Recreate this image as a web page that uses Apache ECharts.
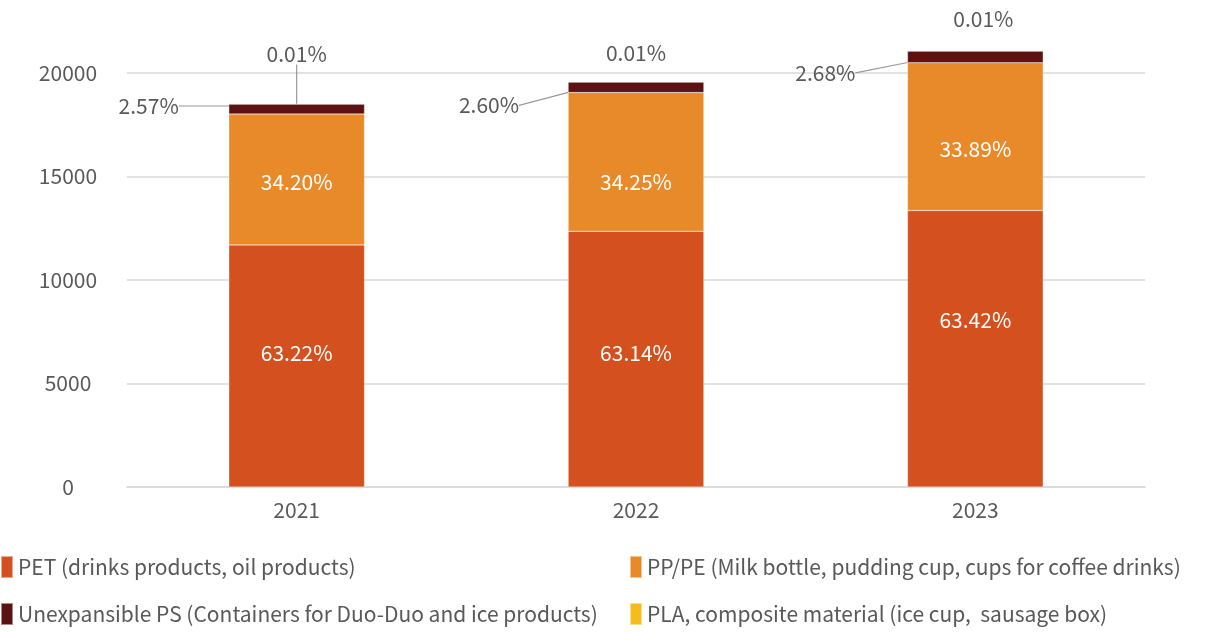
<!DOCTYPE html>
<html>
<head>
<meta charset="utf-8">
<script src="https://cdn.jsdelivr.net/npm/echarts@6/dist/echarts.min.js"></script>
<style>
  html, body { margin: 0; padding: 0; background: #fff; }
  #chart { width: 1226px; height: 633px; }
</style>
</head>
<body>
<div id="chart"></div>
<script>
const years = ['2021', '2022', '2023']
const seriesNames = [
  'PET (drinks products, oil products)',
  'PP/PE (Milk bottle, pudding cup, cups for coffee drinks)',
  'Unexpansible PS (Containers for Duo-Duo and ice products)',
  'PLA, composite material (ice cup,  sausage box)'
]
const petValues = [11696, 12353, 13358]
const ppValues = [6327, 6701, 7138]
const psValues = [475, 509, 564]
const plaValues = [2, 2, 2]
const petPct = ['63.22%', '63.14%', '63.42%']
const ppPct = ['34.20%', '34.25%', '33.89%']
const psPct = ['2.57%', '2.60%', '2.68%']
const plaPct = ['0.01%', '0.01%', '0.01%']
const yTicks = [0, 5000, 10000, 15000, 20000]

const FONT = '"Noto Sans CJK SC", "Noto Sans", sans-serif'
const TEXT = '#595959'
const colors = ['#D4501E', '#E8892A', '#5C1212', '#F4BC1C']

const chart = echarts.init(document.getElementById('chart'))

// label offsets (the labels were nudged by hand in the original)
const petShift = [[0, -13], [0, -6], [0, -29]]
const ppShift = [[0, 3], [0, 20], [0, 12]]
const psShift = [[-148, -3], [-147, 18], [-150, 16]]
const plaShift = [[0, -50], [0, -29], [8, -32]]
const plaLine = [true, false, false]

const bar = (name, data, pct, shift, labelColor, extra) => Object.assign({
  name: name,
  type: 'bar',
  stack: 'total',
  barWidth: '40%',
  clip: false,
  data: data,
  itemStyle: { borderColor: 'rgba(255,255,255,0.5)', borderWidth: 0.5 },
  label: {
    show: true,
    position: 'inside',
    fontFamily: FONT,
    fontSize: 21,
    color: labelColor,
    formatter: p => pct[p.dataIndex]
  },
  labelLayout: p => ({ dx: shift[p.dataIndex][0], dy: shift[p.dataIndex][1] })
}, extra || {})

const legendItem = (name, left, top) => ({
  left: left,
  top: top,
  padding: 0,
  itemWidth: 12,
  itemHeight: 22,
  icon: 'rect',
  textStyle: { fontFamily: FONT, fontSize: 21, color: TEXT },
  data: [name]
})

const option = {
  animation: false,
  color: colors,
  textStyle: { fontFamily: FONT },
  grid: { left: 127, right: 81, top: 73, bottom: 146 },
  legend: [
    legendItem(seriesNames[0], 0, 555),
    legendItem(seriesNames[1], 629, 555),
    legendItem(seriesNames[2], 0, 602),
    legendItem(seriesNames[3], 629, 602)
  ],
  xAxis: {
    type: 'category',
    data: years,
    axisLine: { lineStyle: { color: '#d9d9d9', width: 1.5 } },
    axisTick: { show: false },
    axisLabel: { color: TEXT, fontSize: 21, fontFamily: FONT, margin: 13 }
  },
  yAxis: {
    type: 'value',
    min: yTicks[0],
    max: yTicks[yTicks.length - 1],
    interval: yTicks[1] - yTicks[0],
    axisLine: { show: false },
    axisTick: { show: false },
    splitLine: { lineStyle: { color: '#d9d9d9', width: 1.5 } },
    axisLabel: {
      color: TEXT, fontSize: 21, fontFamily: FONT, align: 'center', margin: 59,
      formatter: v => String(v)
    }
  },
  series: [
    bar(seriesNames[0], petValues, petPct, petShift, '#fff'),
    bar(seriesNames[1], ppValues, ppPct, ppShift, '#fff'),
    bar(seriesNames[2], psValues, psPct, psShift, TEXT, {
      labelLine: { show: true, lineStyle: { color: '#999', width: 1.2 } }
    }),
    bar(seriesNames[3], plaValues.map((v, i) => ({
      value: v,
      labelLine: { show: plaLine[i] }
    })), plaPct, plaShift, TEXT, {
      labelLine: { show: true, lineStyle: { color: '#999', width: 1.2 } }
    })
  ]
}

chart.setOption(option)
</script>
</body>
</html>
